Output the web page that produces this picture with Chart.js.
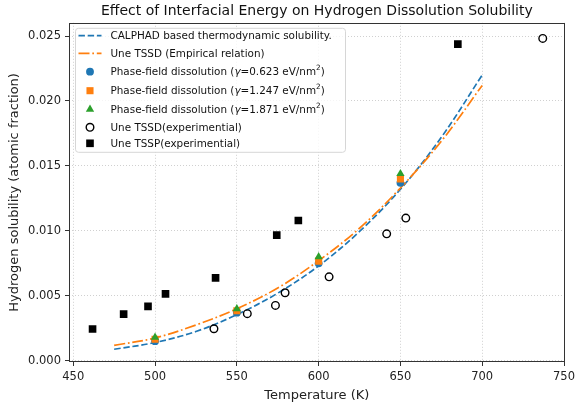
<!DOCTYPE html>
<html><head><meta charset="utf-8">
<script src="https://cdn.jsdelivr.net/npm/chart.js@4.4.1/dist/chart.umd.min.js"></script>
<style>html,body{margin:0;padding:0;background:#fff}</style>
</head><body>
<canvas id="c" width="579" height="410" style="width:579px;height:410px;display:block"></canvas>
<script>
// ---------- data ----------
const chartTitle = 'Effect of Interfacial Energy on Hydrogen Dissolution Solubility';
const xAxisTitle = 'Temperature (K)';
const yAxisTitle = 'Hydrogen solubility (atomic fraction)';
const xTicks = [450, 500, 550, 600, 650, 700, 750];
const xTickLabels = ['450', '500', '550', '600', '650', '700', '750'];
const yTicks = [0, 0.005, 0.010, 0.015, 0.020, 0.025];
const yTickLabels = ['0.000', '0.005', '0.010', '0.015', '0.020', '0.025'];

const seriesLabels = [
  'CALPHAD based thermodynamic solubility.',
  'Une TSSD (Empirical relation)',
  'Phase-field dissolution (γ=0.623 eV/nm²)',
  'Phase-field dissolution (γ=1.247 eV/nm²)',
  'Phase-field dissolution (γ=1.871 eV/nm²)',
  'Une TSSD(experimential)',
  'Une TSSP(experimential)'
];

const curveT   = [475, 500, 525, 550, 575, 600, 625, 650, 675, 700];
const calphadH = [0.00088, 0.00140, 0.00225, 0.00355, 0.00520, 0.00730, 0.00995, 0.01320, 0.01720, 0.02200];
const tssdEmpH = [0.00118, 0.00175, 0.00275, 0.00400, 0.00560, 0.00770, 0.01020, 0.01330, 0.01690, 0.02120];

const pfT     = [500, 550, 600, 650];
const pf0623H = [0.00150, 0.00370, 0.00750, 0.01370];
const pf1247H = [0.00165, 0.00385, 0.00767, 0.01400];
const pf1871H = [0.00180, 0.00400, 0.00800, 0.01440];

const tssdExpT = [536, 556.4, 573.6, 579.5, 606.4, 641.6, 653.3, 737];
const tssdExpH = [0.00246, 0.00362, 0.00426, 0.00523, 0.00646, 0.00977, 0.01098, 0.02482];
const tsspExpT = [461.8, 480.8, 495.7, 506.4, 537, 574.4, 587.6, 685.1];
const tsspExpH = [0.00244, 0.00359, 0.00418, 0.00515, 0.00638, 0.00967, 0.01080, 0.02438];

// ---------- chart ----------
const FONT = "'DejaVu Sans', 'Liberation Sans', sans-serif";
Chart.defaults.font.family = FONT;
const pts = (xs, ys) => xs.map((x, i) => ({x: x, y: ys[i]}));

const C0 = '#1f77b4', C1 = '#ff7f0e', C2 = '#2ca02c';

const datasets = [
  {label: seriesLabels[0], data: pts(curveT, calphadH), showLine: true, borderColor: C0, borderWidth: 1.7,
   borderDash: [6.4, 2.8], pointRadius: 0, fill: false, tension: 0.35, order: 10},
  {label: seriesLabels[1], data: pts(curveT, tssdEmpH), showLine: true, borderColor: C1, borderWidth: 1.7,
   borderDash: [11, 2.8, 1.7, 2.8], pointRadius: 0, fill: false, tension: 0.35, order: 9},
  {label: seriesLabels[2], data: pts(pfT, pf0623H), showLine: false, pointStyle: 'circle', pointRadius: 3.9,
   backgroundColor: C0, borderColor: C0, pointBorderWidth: 0, order: 5},
  {label: seriesLabels[3], data: pts(pfT, pf1247H), showLine: false, pointStyle: 'rect', pointRadius: 5,
   backgroundColor: C1, borderColor: C1, pointBorderWidth: 0, order: 4},
  {label: seriesLabels[4], data: pts(pfT, pf1871H), showLine: false, pointStyle: 'triangle', pointRadius: 4.8,
   backgroundColor: C2, borderColor: C2, pointBorderWidth: 0, order: 3},
  {label: seriesLabels[5], data: pts(tssdExpT, tssdExpH), showLine: false, pointStyle: 'circle', pointRadius: 3.8,
   backgroundColor: 'rgba(0,0,0,0)', borderColor: '#000', pointBorderWidth: 1.4, order: 2},
  {label: seriesLabels[6], data: pts(tsspExpT, tsspExpH), showLine: false, pointStyle: 'rect', pointRadius: 5.4,
   backgroundColor: '#000', borderColor: '#000', pointBorderWidth: 0, order: 1}
];

function drawMarker(ctx, ds, x, y) {
  const opts = {pointStyle: ds.pointStyle, radius: ds.pointRadius, borderWidth: ds.pointBorderWidth, rotation: 0};
  ctx.save();
  ctx.fillStyle = ds.backgroundColor;
  ctx.strokeStyle = ds.borderColor;
  ctx.lineWidth = ds.pointBorderWidth;
  ctx.setLineDash([]);
  Chart.helpers.drawPoint(ctx, opts, x, y);
  ctx.restore();
}

function drawRich(ctx, text, x, y, size) {
  let cx = x;
  let run = '';
  const flush = () => {
    if (!run) return;
    ctx.font = size + 'px ' + FONT;
    ctx.fillText(run, cx, y);
    cx += ctx.measureText(run).width;
    run = '';
  };
  for (const ch of text) {
    if (ch === 'γ') {
      flush();
      ctx.font = 'italic ' + size + 'px ' + FONT;
      ctx.fillText('γ', cx, y);
      cx += ctx.measureText('γ').width;
    } else if (ch === '²') {
      flush();
      const s = size * 0.7;
      ctx.font = s + 'px ' + FONT;
      ctx.fillText('2', cx, y - size * 0.38);
      cx += ctx.measureText('2').width;
    } else {
      run += ch;
    }
  }
  flush();
}

const frameLegend = {
  id: 'frameLegend',
  afterDraw(chart) {
    const ctx = chart.ctx, a = chart.chartArea;
    ctx.save();
    // axes frame
    ctx.strokeStyle = '#333';
    ctx.lineWidth = 1;
    ctx.setLineDash([]);
    ctx.strokeRect(Math.round(a.left) + 0.5, Math.round(a.top) + 0.5,
                   Math.round(a.right) - Math.round(a.left) - 1, Math.round(a.bottom) - Math.round(a.top) - 1);
    // legend box
    const lx = a.left + 6.5, ly = a.top + 5.5, lw = 270, lh = 124, r = 3;
    ctx.beginPath();
    ctx.moveTo(lx + r, ly);
    ctx.arcTo(lx + lw, ly, lx + lw, ly + lh, r);
    ctx.arcTo(lx + lw, ly + lh, lx, ly + lh, r);
    ctx.arcTo(lx, ly + lh, lx, ly, r);
    ctx.arcTo(lx, ly, lx + lw, ly, r);
    ctx.closePath();
    ctx.fillStyle = 'rgba(255,255,255,0.8)';
    ctx.fill();
    ctx.strokeStyle = '#d6d6d6';
    ctx.lineWidth = 1;
    ctx.stroke();
    const rowY = [12.9, 30.5, 48.9, 67.9, 86.5, 104.5, 120.5];
    chart.data.datasets.forEach((ds, i) => {
      const y = a.top + rowY[i];
      if (ds.showLine) {
        ctx.save();
        ctx.strokeStyle = ds.borderColor;
        ctx.lineWidth = ds.borderWidth;
        ctx.setLineDash(ds.borderDash);
        ctx.beginPath();
        ctx.moveTo(lx + 3, y);
        ctx.lineTo(lx + 26, y);
        ctx.stroke();
        ctx.restore();
      } else {
        drawMarker(ctx, ds, lx + 14.5, y);
      }
      ctx.fillStyle = '#111';
      ctx.textBaseline = 'middle';
      ctx.textAlign = 'left';
      drawRich(ctx, ds.label, lx + 35, y + 0.5, 10.4);
    });
    ctx.restore();
  }
};

new Chart(document.getElementById('c'), {
  type: 'scatter',
  data: {datasets: datasets},
  options: {
    responsive: false,
    devicePixelRatio: 1,
    animation: false,
    events: [],
    layout: {padding: {left: 0, right: 11, top: 0, bottom: 0}},
    plugins: {
      legend: {display: false},
      tooltip: {enabled: false},
      title: {display: true, text: chartTitle, fullSize: false, color: '#111',
              font: {size: 14, weight: 'normal'}, padding: {top: 3, bottom: 3}}
    },
    scales: {
      x: {
        type: 'linear', min: 447.4, max: 750.4,
        afterBuildTicks: s => { s.ticks = xTicks.map(v => ({value: v})); },
        afterFit: s => { s.height = 48; },
        ticks: {callback: (v, i) => xTickLabels[i], font: {size: 11.5}, color: '#222', padding: 4, maxRotation: 0},
        grid: {color: '#c4c4c4', lineWidth: 0.8, tickColor: '#333', tickLength: 4, tickWidth: 1},
        border: {display: false, color: '#333', width: 1, dash: [1, 2]},
        title: {display: true, text: xAxisTitle, font: {size: 13}, color: '#222', padding: {top: 0, bottom: 6.2}}
      },
      y: {
        type: 'linear', min: -0.0001, max: 0.02602,
        afterBuildTicks: s => { s.ticks = yTicks.map(v => ({value: v})); },
        afterFit: s => { s.width = 69; },
        ticks: {callback: (v, i) => yTickLabels[i], font: {size: 11.5}, color: '#222', padding: 4},
        grid: {color: '#c4c4c4', lineWidth: 0.8, tickColor: '#333', tickLength: 4, tickWidth: 1},
        border: {display: false, color: '#333', width: 1, dash: [1, 2]},
        title: {display: true, text: yAxisTitle, font: {size: 13}, color: '#222', padding: {top: 6.7, bottom: 0}}
      }
    }
  },
  plugins: [frameLegend]
});
</script>
</body></html>
